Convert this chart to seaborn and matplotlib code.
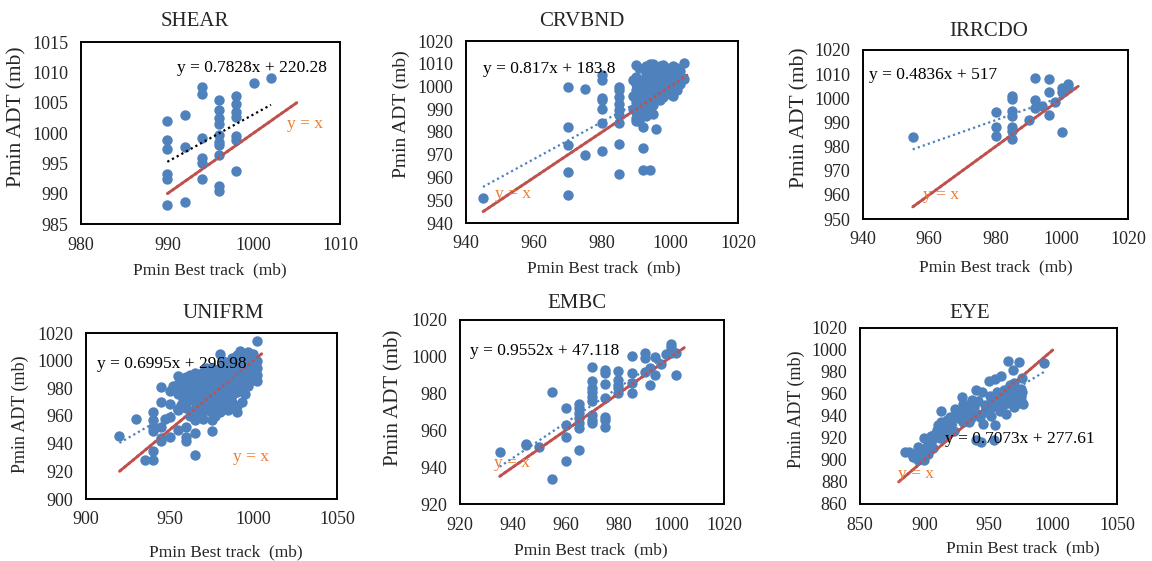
import matplotlib
matplotlib.use("Agg")
import matplotlib.pyplot as plt
import pandas as pd
import seaborn as sns

# ---------------- data: minimum pressure, best track vs ADT (mb) ----------------
titles = ["SHEAR", "CRVBND", "IRRCDO", "UNIFRM", "EMBC", "EYE"]

shear_x = [990, 990, 990, 990, 990, 990, 992, 992, 992,
           994, 994, 994, 994, 994, 994,
           996, 996, 996, 996, 996, 996, 996, 996, 996, 996,
           998, 998, 998, 998, 998, 998, 998, 1000, 1002]
shear_y = [1002.0, 998.9, 997.3, 993.3, 992.4, 988.1, 1002.9, 997.7, 988.6,
           1007.6, 1006.5, 999.2, 995.8, 995.0, 992.4,
           1005.4, 1003.8, 1002.4, 1001.5, 999.6, 998.5, 998.1, 996.3, 991.2, 990.5,
           1006.1, 1004.7, 1003.5, 1002.7, 999.5, 998.9, 993.8, 1008.3, 1009.1]

crvbnd_x = [945,
            970, 970, 970, 970, 970,
            975, 975,
            980, 980, 980, 980, 980, 980, 980,
            985, 985, 985, 985, 985, 985, 985, 985, 985,
            989, 989, 989,
            990, 990, 990, 990, 990, 990, 990, 990, 990, 990,
            991, 991, 991, 991, 991, 991, 991, 991,
            992, 992, 992, 992, 992, 992, 992, 992,
            993, 993, 993, 993, 993, 993, 993, 993, 993,
            994, 994, 994, 994, 994, 994, 994, 994,
            995, 995, 995, 995, 995, 995, 995, 995, 995, 995,
            996, 996, 996, 996, 996,
            997, 997, 997, 997, 997, 997, 997, 997,
            998, 998, 998, 998, 998,
            999, 999, 999, 999, 999, 999, 999,
            1000, 1000, 1000, 1000,
            1001, 1001, 1001, 1001, 1001, 1001, 1001,
            1002, 1002, 1002,
            1003, 1003, 1003,
            1004, 1004]
crvbnd_y = [951.2,
            1000.0, 982.3, 974.2, 962.6, 952.1,
            998.7, 969.7,
            1005.0, 1002.8, 995.0, 994.0, 990.0, 984.1, 971.6,
            1000.0, 998.4, 995.5, 992.5, 989.6, 987.4, 984.0, 974.6, 961.4,
            1003.0, 996.0, 990.0,
            1009.6, 1004.2, 1001.3, 998.4, 995.5, 993.2, 991.0, 988.8, 986.3, 985.0,
            1003.0, 997.0, 992.0, 988.0, 1008.0, 1000.0, 994.0, 985.0,
            1002.8, 999.9, 994.0, 991.0, 987.8, 982.3, 973.1, 963.4,
            1006.0, 1001.0, 996.0, 990.0, 1009.0, 1003.0, 998.0, 993.0, 987.0,
            1010.0, 1007.0, 1004.2, 1000.6, 997.7, 994.0, 989.1, 963.2,
            1008.0, 1003.0, 999.0, 995.0, 1010.0, 1005.0, 1001.0, 997.0, 992.0, 988.0,
            1007.0, 1002.8, 998.4, 995.5, 981.5,
            1005.0, 1001.0, 997.0, 1009.0, 1007.0, 1003.0, 999.0, 994.0,
            1009.6, 1006.4, 1002.0, 998.4, 995.5,
            1004.0, 1000.0, 997.0, 1008.0, 1006.0, 1002.0, 998.0,
            1007.9, 1004.2, 999.9, 996.9,
            1006.0, 1002.0, 998.0, 1009.0, 1004.0, 1000.0, 996.0,
            1008.0, 1005.0, 998.4,
            1007.0, 1005.0, 1001.0,
            1010.3, 1003.4]

irrcdo_x = [955, 980, 980, 980, 985, 985, 985, 985, 985, 985, 985, 990,
            992, 992, 992, 994, 996, 996, 996, 998, 1000, 1000, 1000, 1002, 1002]
irrcdo_y = [984.1, 994.5, 988.0, 984.4, 1001.0, 999.6, 994.8, 992.7, 988.3, 986.6, 983.0, 990.8,
            1008.2, 999.3, 995.9, 996.6, 1008.0, 1002.8, 993.2, 998.6, 1004.1, 1002.8, 986.2, 1005.9, 1004.8]

unifrm_x = [920, 930, 935,
            940, 940, 940, 940, 940, 940,
            945, 945, 945, 945, 945, 947,
            950, 950, 950, 950, 952,
            955, 955, 955, 955, 955, 955,
            957, 957,
            958, 958,
            960, 960, 960, 960, 960, 960, 960, 960,
            962, 962, 962,
            963, 963,
            965, 965, 965, 965, 965, 965, 965, 965, 965,
            967, 967, 967,
            968, 968, 968,
            970, 970, 970, 970, 970, 970, 970, 970, 970,
            972, 972, 972, 972,
            973, 973, 973,
            975, 975, 975, 975, 975, 975, 975, 975, 975, 975,
            977, 977, 977, 977,
            978, 978, 978,
            980, 980, 980, 980, 980, 980, 980, 980, 980,
            982, 982, 982, 982,
            983, 983,
            985, 985, 985, 985, 985, 985, 985,
            987, 987, 987, 987,
            988, 988, 988,
            990, 990, 990, 990, 990, 990, 990, 990, 990,
            992, 992, 992, 992, 992,
            993, 993, 993, 993,
            995, 995, 995, 995, 995, 995,
            997, 997, 997, 997,
            998, 998, 998, 998,
            1000, 1000, 1000, 1000, 1000, 1000,
            1002, 1002, 1002, 1002, 1002]
unifrm_y = [945.5, 957.5, 928.0,
            963.0, 957.0, 952.0, 949.0, 935.0, 928.0,
            981.0, 970.0, 952.0, 944.0, 942.0, 958.0,
            978.0, 969.0, 959.0, 945.0, 982.0,
            989.0, 983.0, 976.0, 965.0, 964.0, 950.0,
            985.0, 968.0,
            978.0, 972.0,
            988.0, 981.0, 975.0, 970.0, 966.0, 952.0, 945.0, 942.0,
            990.0, 972.0, 960.0,
            985.0, 978.0,
            991.0, 985.0, 980.0, 975.0, 970.0, 965.0, 957.0, 948.0, 932.0,
            985.0, 977.0, 962.0,
            988.0, 982.0, 972.0,
            992.0, 987.0, 983.0, 978.0, 975.0, 972.0, 968.0, 963.0, 958.0,
            995.0, 985.0, 976.0, 966.0,
            990.0, 980.0, 970.0,
            995.0, 990.0, 985.0, 980.0, 976.0, 972.0, 966.0, 962.0, 957.0, 949.0,
            992.0, 983.0, 973.0, 960.0,
            988.0, 978.0, 968.0,
            1005.0, 995.0, 990.0, 985.0, 982.0, 978.0, 974.0, 970.0, 963.0,
            1000.0, 988.0, 975.0, 968.0,
            992.0, 980.0,
            998.0, 992.0, 988.0, 983.0, 978.0, 974.0, 964.0,
            1002.0, 990.0, 980.0, 970.0,
            995.0, 985.0, 976.0,
            1004.0, 1000.0, 995.0, 990.0, 986.0, 982.0, 977.0, 967.0, 963.0,
            1007.0, 1002.0, 996.0, 990.0, 985.0,
            1004.0, 994.0, 980.0, 970.0,
            1005.0, 1000.0, 995.0, 990.0, 985.0, 976.0,
            1006.0, 998.0, 990.0, 982.0,
            1003.0, 998.0, 993.0, 988.0,
            1005.0, 1000.0, 997.0, 993.0, 990.0, 986.0,
            1014.0, 1000.0, 995.0, 990.0, 985.0]

embc_x = [935, 945, 945, 950, 955, 955,
          960, 960, 960, 960,
          965, 965, 965, 965, 965, 965, 965,
          970, 970, 970, 970, 970, 970, 970, 970, 970,
          975, 975, 975, 975, 975, 975, 975,
          980, 980, 980, 980, 980,
          985, 985, 985, 985,
          990, 990, 990, 992, 992, 994, 994, 996, 998,
          1000, 1000, 1000, 1002, 1002]
embc_y = [948.5, 952.5, 951.8, 951.0, 981.0, 933.4,
          972.0, 963.0, 956.2, 943.6,
          974.3, 972.0, 969.3, 966.6, 963.8, 961.1, 949.4,
          994.2, 987.0, 983.2, 981.0, 978.3, 976.2, 968.4, 965.7, 964.2,
          992.8, 991.0, 985.0, 977.4, 967.5, 965.7, 962.0,
          992.4, 987.4, 984.6, 982.8, 980.1,
          1000.4, 991.4, 985.9, 980.1,
          1002.2, 999.6, 991.8, 994.0, 984.5, 999.9, 990.0, 996.0, 1001.4,
          1006.8, 1005.1, 1002.2, 1001.8, 990.0]

eye_x = [885, 888, 891, 893, 895, 895, 898, 900, 900, 902, 903, 905, 906, 907, 908,
         910, 911, 912, 913, 913, 915, 916, 917, 918, 920, 920, 921, 923, 924, 925,
         926, 928, 929, 930, 930, 932, 933, 934, 935, 936, 937, 938, 939, 940, 940,
         941, 942, 943, 944, 945, 946, 947, 948, 949, 950, 951, 952, 952, 953, 954,
         955, 955, 956, 957, 958, 958, 959, 960, 960, 961, 962, 963, 964, 965, 965,
         966, 967, 968, 969, 970, 970, 971, 972, 973, 974, 975, 975, 975, 976, 976,
         977, 993]
eye_y = [907, 907, 903, 905, 900, 912, 906, 900, 920, 912, 905, 922, 918, 911, 924,
         927, 932, 920, 935, 945, 929, 924, 927, 936, 939, 930, 933, 926, 946, 945,
         938, 940, 957, 951, 935, 946, 942, 950, 935, 938, 955, 945, 948, 964, 918,
         942, 954, 939, 916, 962, 933, 950, 947, 944, 972, 958, 953, 940, 948, 918,
         974, 932, 954, 962, 960, 948, 945, 976, 955, 950, 964, 958, 942, 990, 952,
         961, 968, 955, 982, 970, 948, 960, 964, 952, 989, 965, 958, 955, 975, 962,
         951, 988]

# Excel-style linear trendlines (y = m x + b) as printed on each panel
slopes = [0.7828, 0.817, 0.4836, 0.6995, 0.9552, 0.7073]
intercepts = [220.28, 183.8, 517, 296.98, 47.118, 277.61]

# end points of the y = x reference line
identity_lo = [990, 945, 955, 920, 935, 880]
identity_hi = [1005, 1005, 1005, 1005, 1005, 1000]

# axis ranges and tick steps
x_limits = [(980, 1010), (940, 1020), (940, 1020), (900, 1050), (920, 1020), (850, 1050)]
x_steps = [10, 20, 20, 50, 20, 50]
y_limits = [(985, 1015), (940, 1020), (950, 1020), (900, 1020), (920, 1020), (860, 1020)]
y_steps = [5, 10, 10, 20, 20, 20]

xs = [shear_x, crvbnd_x, irrcdo_x, unifrm_x, embc_x, eye_x]
ys = [shear_y, crvbnd_y, irrcdo_y, unifrm_y, embc_y, eye_y]

x_label = "Pmin Best track  (mb)"
y_label = "Pmin ADT (mb)"

# ---------------- layout / style ----------------
W, H = 1152, 561
# plot boxes in pixels: left, top, right, bottom
boxes = [(81, 42, 340, 224), (466, 41, 738, 223), (863, 50, 1128, 219),
         (86, 333, 337, 499), (460, 320, 724, 504), (860, 328, 1117, 504)]
title_px = [(195, 21), (582, 21), (989, 32), (223, 313), (577, 303), (970, 314)]
xlabel_px = [(210, 270), (604, 268), (996, 267), (226, 552), (591, 550), (1023, 548)]
ylabel_px = [(17, 117), (401, 114), (800, 118), (20, 414), (394, 398), (796, 409)]
ylabel_sizes = [15.5, 14, 15.5, 13, 15, 13]
eq_pos = [(991.1, 1010.7), (945, 1007.8), (941.8, 1009.7), (906.8, 997.9), (923.8, 1003.2), (916, 918.9)]
yx_pos = [(1003.9, 1001.5), (948.6, 952.9), (958, 960.1), (987.8, 930.6), (932.9, 942.5), (879.2, 887)]

BLUE = "#4F81BD"
RED = "#C0504D"
ORANGE = "#ED7D31"
trend_colors = ["black", BLUE, BLUE, BLUE, BLUE, BLUE]

sns.set_style("white")
plt.rcParams["font.family"] = ["Liberation Serif", "DejaVu Serif"]

fig = plt.figure(figsize=(W / 100, H / 100), dpi=100)

for i in range(6):
    l, t, r, b = boxes[i]
    ax = fig.add_axes([l / W, 1 - b / H, (r - l) / W, (b - t) / H])
    df = pd.DataFrame({"best": xs[i], "adt": ys[i]})

    ident = [identity_lo[i], identity_hi[i]]
    # solid y = x line underneath the markers
    sns.lineplot(x=ident, y=ident, ax=ax, color=RED, linewidth=2.0,
                 estimator=None, sort=False, legend=False, zorder=1)
    sns.scatterplot(data=df, x="best", y="adt", ax=ax, color=BLUE, s=56,
                    linewidth=0, legend=False, zorder=2)
    # dotted copy of y = x drawn over the markers
    ax.plot(ident, ident, color=RED, linewidth=2.0, linestyle=(0, (1, 1)), zorder=3)

    # linear trendline from the printed coefficients
    tx = [min(xs[i]), max(xs[i])]
    ty = [slopes[i] * v + intercepts[i] for v in tx]
    ax.plot(tx, ty, color=trend_colors[i], linewidth=1.6,
            linestyle=(0, (1, 1.4)), zorder=4)

    ax.text(eq_pos[i][0], eq_pos[i][1],
            f"y = {slopes[i]:g}x + {intercepts[i]:g}",
            fontsize=12.5, ha="left", va="center", color="black", zorder=6)
    ax.text(yx_pos[i][0], yx_pos[i][1], "y = x", fontsize=12.5,
            ha="left", va="center", color=ORANGE, zorder=6)

    x0, x1 = x_limits[i]
    y0, y1 = y_limits[i]
    ax.set_xlim(x0, x1)
    ax.set_ylim(y0, y1)
    ax.set_xticks(list(range(x0, x1 + 1, x_steps[i])))
    ax.set_yticks(list(range(y0, y1 + 1, y_steps[i])))
    ax.tick_params(axis="both", length=0, pad=9, labelsize=13)
    ax.set_xlabel("")
    ax.set_ylabel("")
    for sp in ax.spines.values():
        sp.set_visible(True)
        sp.set_color("black")
        sp.set_linewidth(1.4)

    fig.text(title_px[i][0] / W, 1 - title_px[i][1] / H, titles[i],
             fontsize=15, ha="center", va="center")
    fig.text(xlabel_px[i][0] / W, 1 - xlabel_px[i][1] / H, x_label,
             fontsize=12.5, ha="center", va="center")
    fig.text(ylabel_px[i][0] / W, 1 - ylabel_px[i][1] / H, y_label,
             fontsize=ylabel_sizes[i], ha="center", va="center", rotation=90)

fig.savefig("out.png", dpi=100, facecolor="white")
